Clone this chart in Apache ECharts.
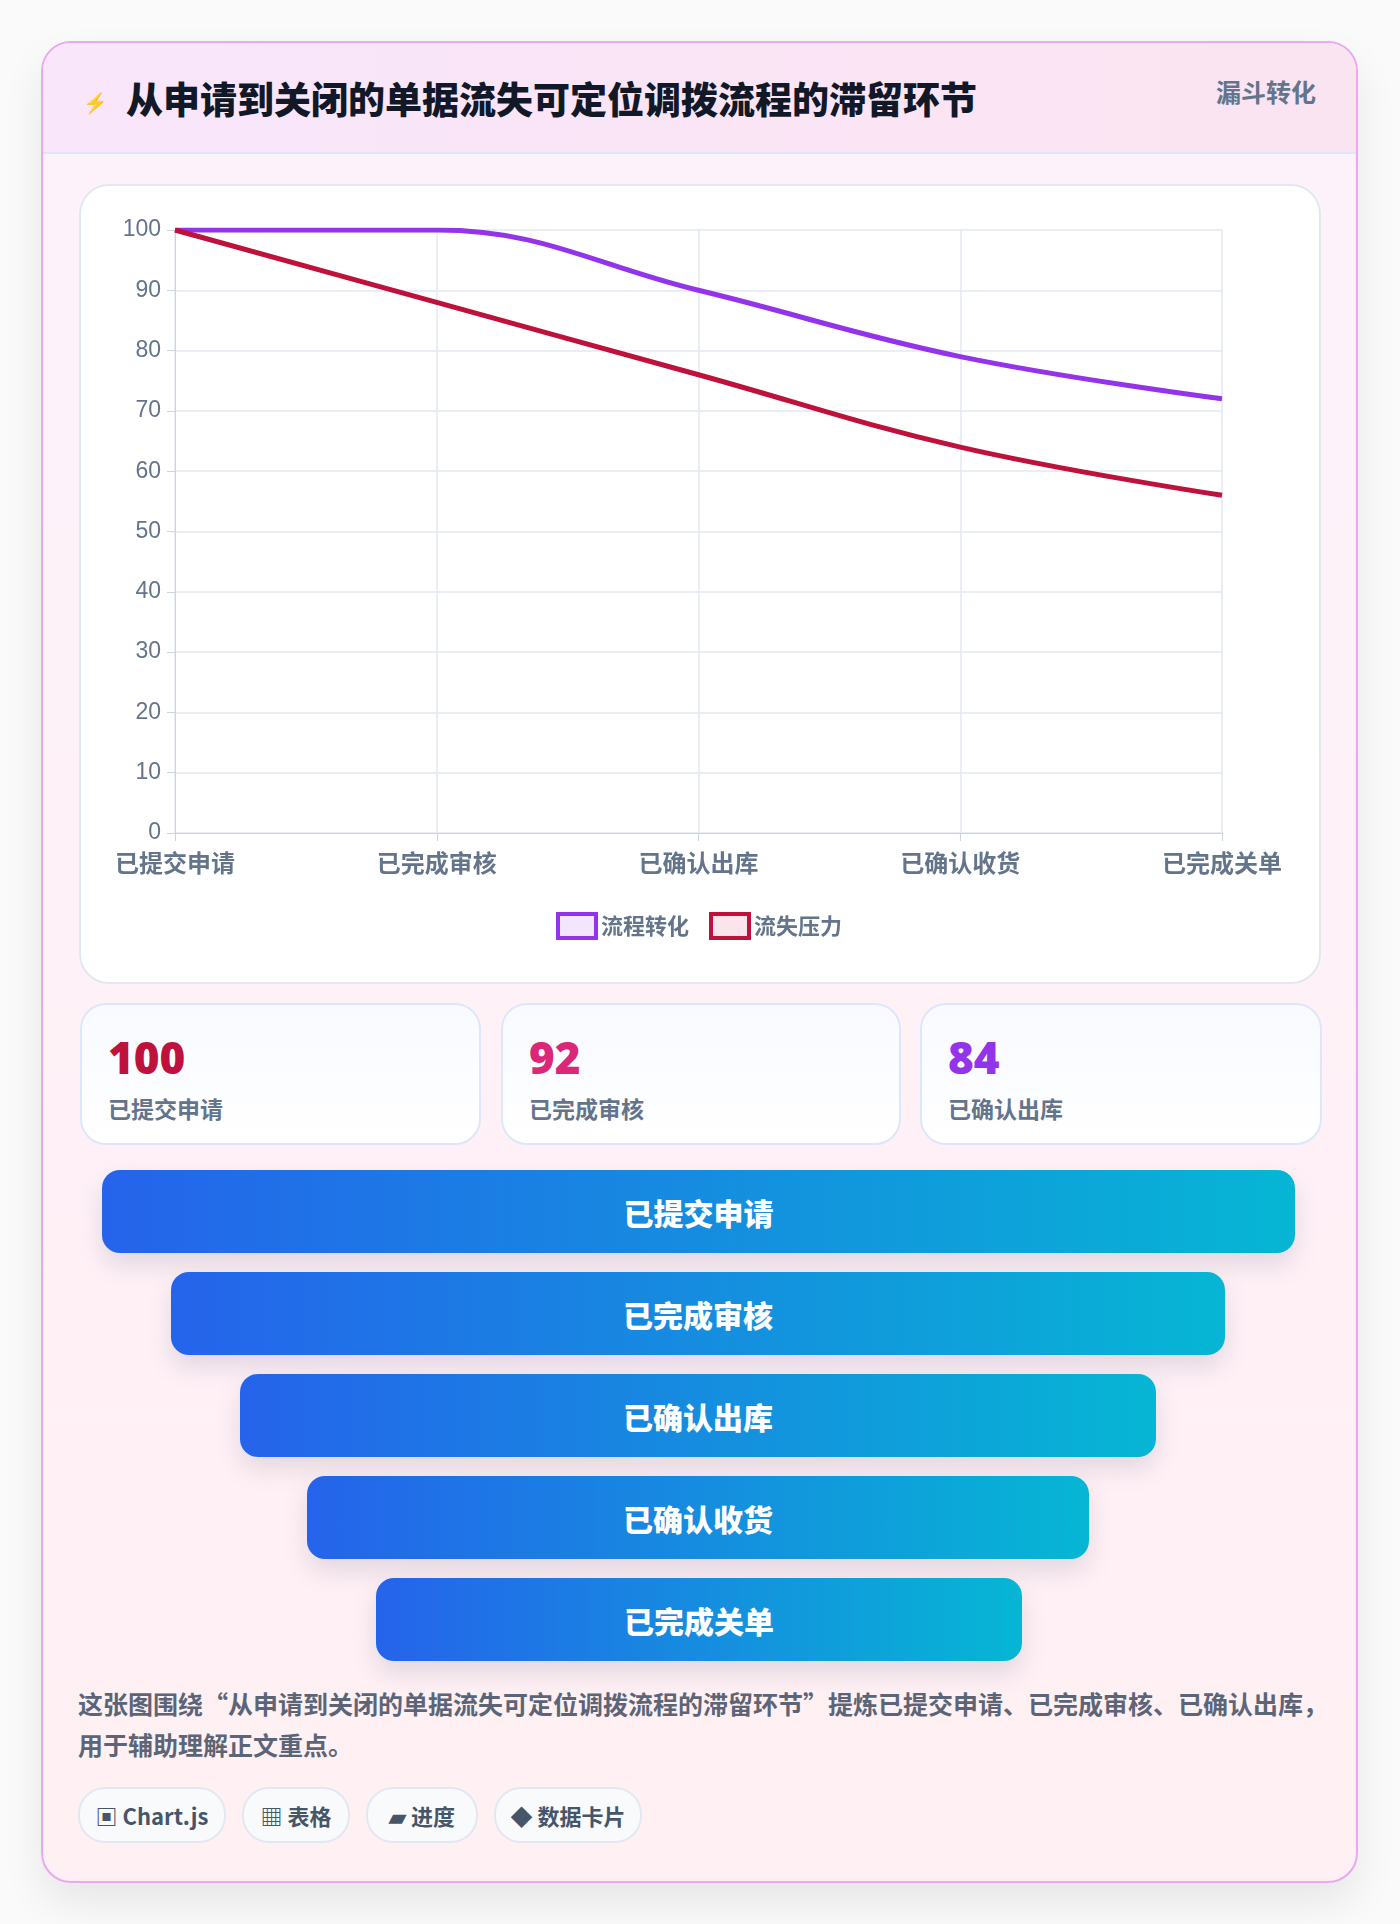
<!DOCTYPE html>
<html><head><meta charset="utf-8">
<script src="https://cdn.jsdelivr.net/npm/echarts@6/dist/echarts.min.js"></script>
<style>
body{margin:0;width:1400px;height:1924px;background:#fafafa;font-family:"Noto Sans CJK SC","Noto Sans",sans-serif;position:relative;overflow:hidden}
.card{position:absolute;left:41px;top:41px;width:1313px;height:1838px;border:2px solid #e9a8f0;border-radius:30px;background:linear-gradient(#fdf2fb,#fff0f3);box-shadow:0 20px 40px rgba(0,0,0,.08);overflow:hidden}
.head{position:absolute;left:0;top:0;width:100%;height:109px;background:linear-gradient(90deg,#f9e6fb,#fbe4f1);border-bottom:2px solid #dbe7fb}
.title{position:absolute;left:83px;top:28px;font-size:37px;font-weight:900;color:#111827}
.icon{position:absolute;left:40px;top:44px;font-size:20px;color:#2f5fe0}
.tag1{position:absolute;right:40px;top:30px;font-size:25px;font-weight:700;color:#64748b}
.box{position:absolute;background:#fff;border:2px solid #e2e8f0;border-radius:30px}
.stat{position:absolute;top:1003px;height:138px;border:2px solid #dde7fb;border-radius:26px;background:linear-gradient(#f8faff,#fff)}
.stat .n{position:absolute;left:26px;top:22px;font-size:44px;font-weight:900;font-family:"Noto Sans",sans-serif}
.stat .l{position:absolute;left:26px;top:86px;font-size:23px;font-weight:700;color:#64748b}
.bar{position:absolute;height:83px;border-radius:18px;background:linear-gradient(90deg,#2563eb,#06b6d4);color:#fff;font-size:30px;font-weight:900;display:flex;align-items:center;justify-content:center;box-shadow:0 12px 24px rgba(100,100,140,.18)}
.desc{position:absolute;left:78px;top:1683px;width:1250px;font-size:25px;font-weight:700;color:#5b6577;line-height:41px}
.tg{position:absolute;top:1787px;height:52px;border:2px solid #e2e8f0;border-radius:27px;background:#f8fafc;font-size:22px;font-weight:700;color:#475569;display:flex;align-items:center;justify-content:center}
</style></head><body>
<div class="card">
 <div class="head"><div class="icon">⚡</div><div class="title">从申请到关闭的单据流失可定位调拨流程的滞留环节</div><div class="tag1">漏斗转化</div></div>
</div>
<div class="box" style="left:79px;top:184px;width:1238px;height:796px"></div>
<div id="c" style="position:absolute;left:80px;top:185px;width:1238px;height:795px"></div>
<div id="stats"></div>
<div id="funnel"></div>
<div class="desc">这张图围绕“从申请到关闭的单据流失可定位调拨流程的滞留环节”提炼已提交申请、已完成审核、已确认出库，用于辅助理解正文重点。</div>
<div class="tg" style="left:78px;width:144px">▣ Chart.js</div>
<div class="tg" style="left:242px;width:104px">▦ 表格</div>
<div class="tg" style="left:366px;width:108px">▰ 进度</div>
<div class="tg" style="left:494px;width:144px">◆ 数据卡片</div>
<script>
const categories=['已提交申请','已完成审核','已确认出库','已确认收货','已完成关单'];
const flowConv=[100,100,90,79,72];
const lossPressure=[100,88,76,64,56];
const statValues=[100,92,84];
const statColors=['#be123c','#db2777','#9333ea'];
const yTicks={min:0,max:100,interval:10};

let s='';
[[80,397],[501,396],[920,398]].forEach((p,i)=>{s+=`<div class="stat" style="left:${p[0]}px;width:${p[1]}px"><div class="n" style="color:${statColors[i]}">${statValues[i]}</div><div class="l">${categories[i]}</div></div>`});
document.getElementById('stats').innerHTML=s;
let f='';
[[102,1193],[171,1054],[240,916],[307,782],[376,646]].forEach((p,i)=>{f+=`<div class="bar" style="left:${p[0]}px;width:${p[1]}px;top:${1170+i*102}px">${categories[i]}</div>`});
document.getElementById('funnel').innerHTML=f;

const ch=echarts.init(document.getElementById('c'));
ch.setOption({
 animation:false,
 grid:{left:95,right:96,top:45,bottom:147},
 legend:{top:722,left:'center',itemWidth:38,itemHeight:24,itemGap:20,textStyle:{fontSize:22,fontWeight:'bold',color:'#64748b',fontFamily:'Noto Sans CJK SC'},
  data:[{name:'流程转化',icon:'rect',itemStyle:{color:'#f3e5fc',borderColor:'#9333ea',borderWidth:4}},{name:'流失压力',icon:'rect',itemStyle:{color:'#fbe4ea',borderColor:'#be123c',borderWidth:4}}]},
 xAxis:{type:'category',data:categories,boundaryGap:false,axisLine:{lineStyle:{color:'#cbd5e1'}},axisTick:{length:8,lineStyle:{color:'#cbd5e1'}},splitLine:{show:true,lineStyle:{color:'#e2e8f0',width:1.5}},
  axisLabel:{fontSize:24,fontWeight:'bold',color:'#64748b',margin:18,fontFamily:'Noto Sans CJK SC'}},
 yAxis:{type:'value',...yTicks,axisLine:{show:true,lineStyle:{color:'#cbd5e1'}},axisTick:{show:true,length:8,lineStyle:{color:'#cbd5e1'}},splitLine:{lineStyle:{color:'#e2e8f0',width:1.5}},
  axisLabel:{fontSize:23,color:'#64748b',margin:14,fontFamily:'Liberation Sans'}},
 series:[
  {name:'流程转化',type:'line',data:flowConv,smooth:0.4,showSymbol:false,lineStyle:{width:5,color:'#9333ea'},itemStyle:{color:'#9333ea'}},
  {name:'流失压力',type:'line',data:lossPressure,smooth:0.4,showSymbol:false,lineStyle:{width:5,color:'#be123c'},itemStyle:{color:'#be123c'}}
 ]
});
</script>
</body></html>
